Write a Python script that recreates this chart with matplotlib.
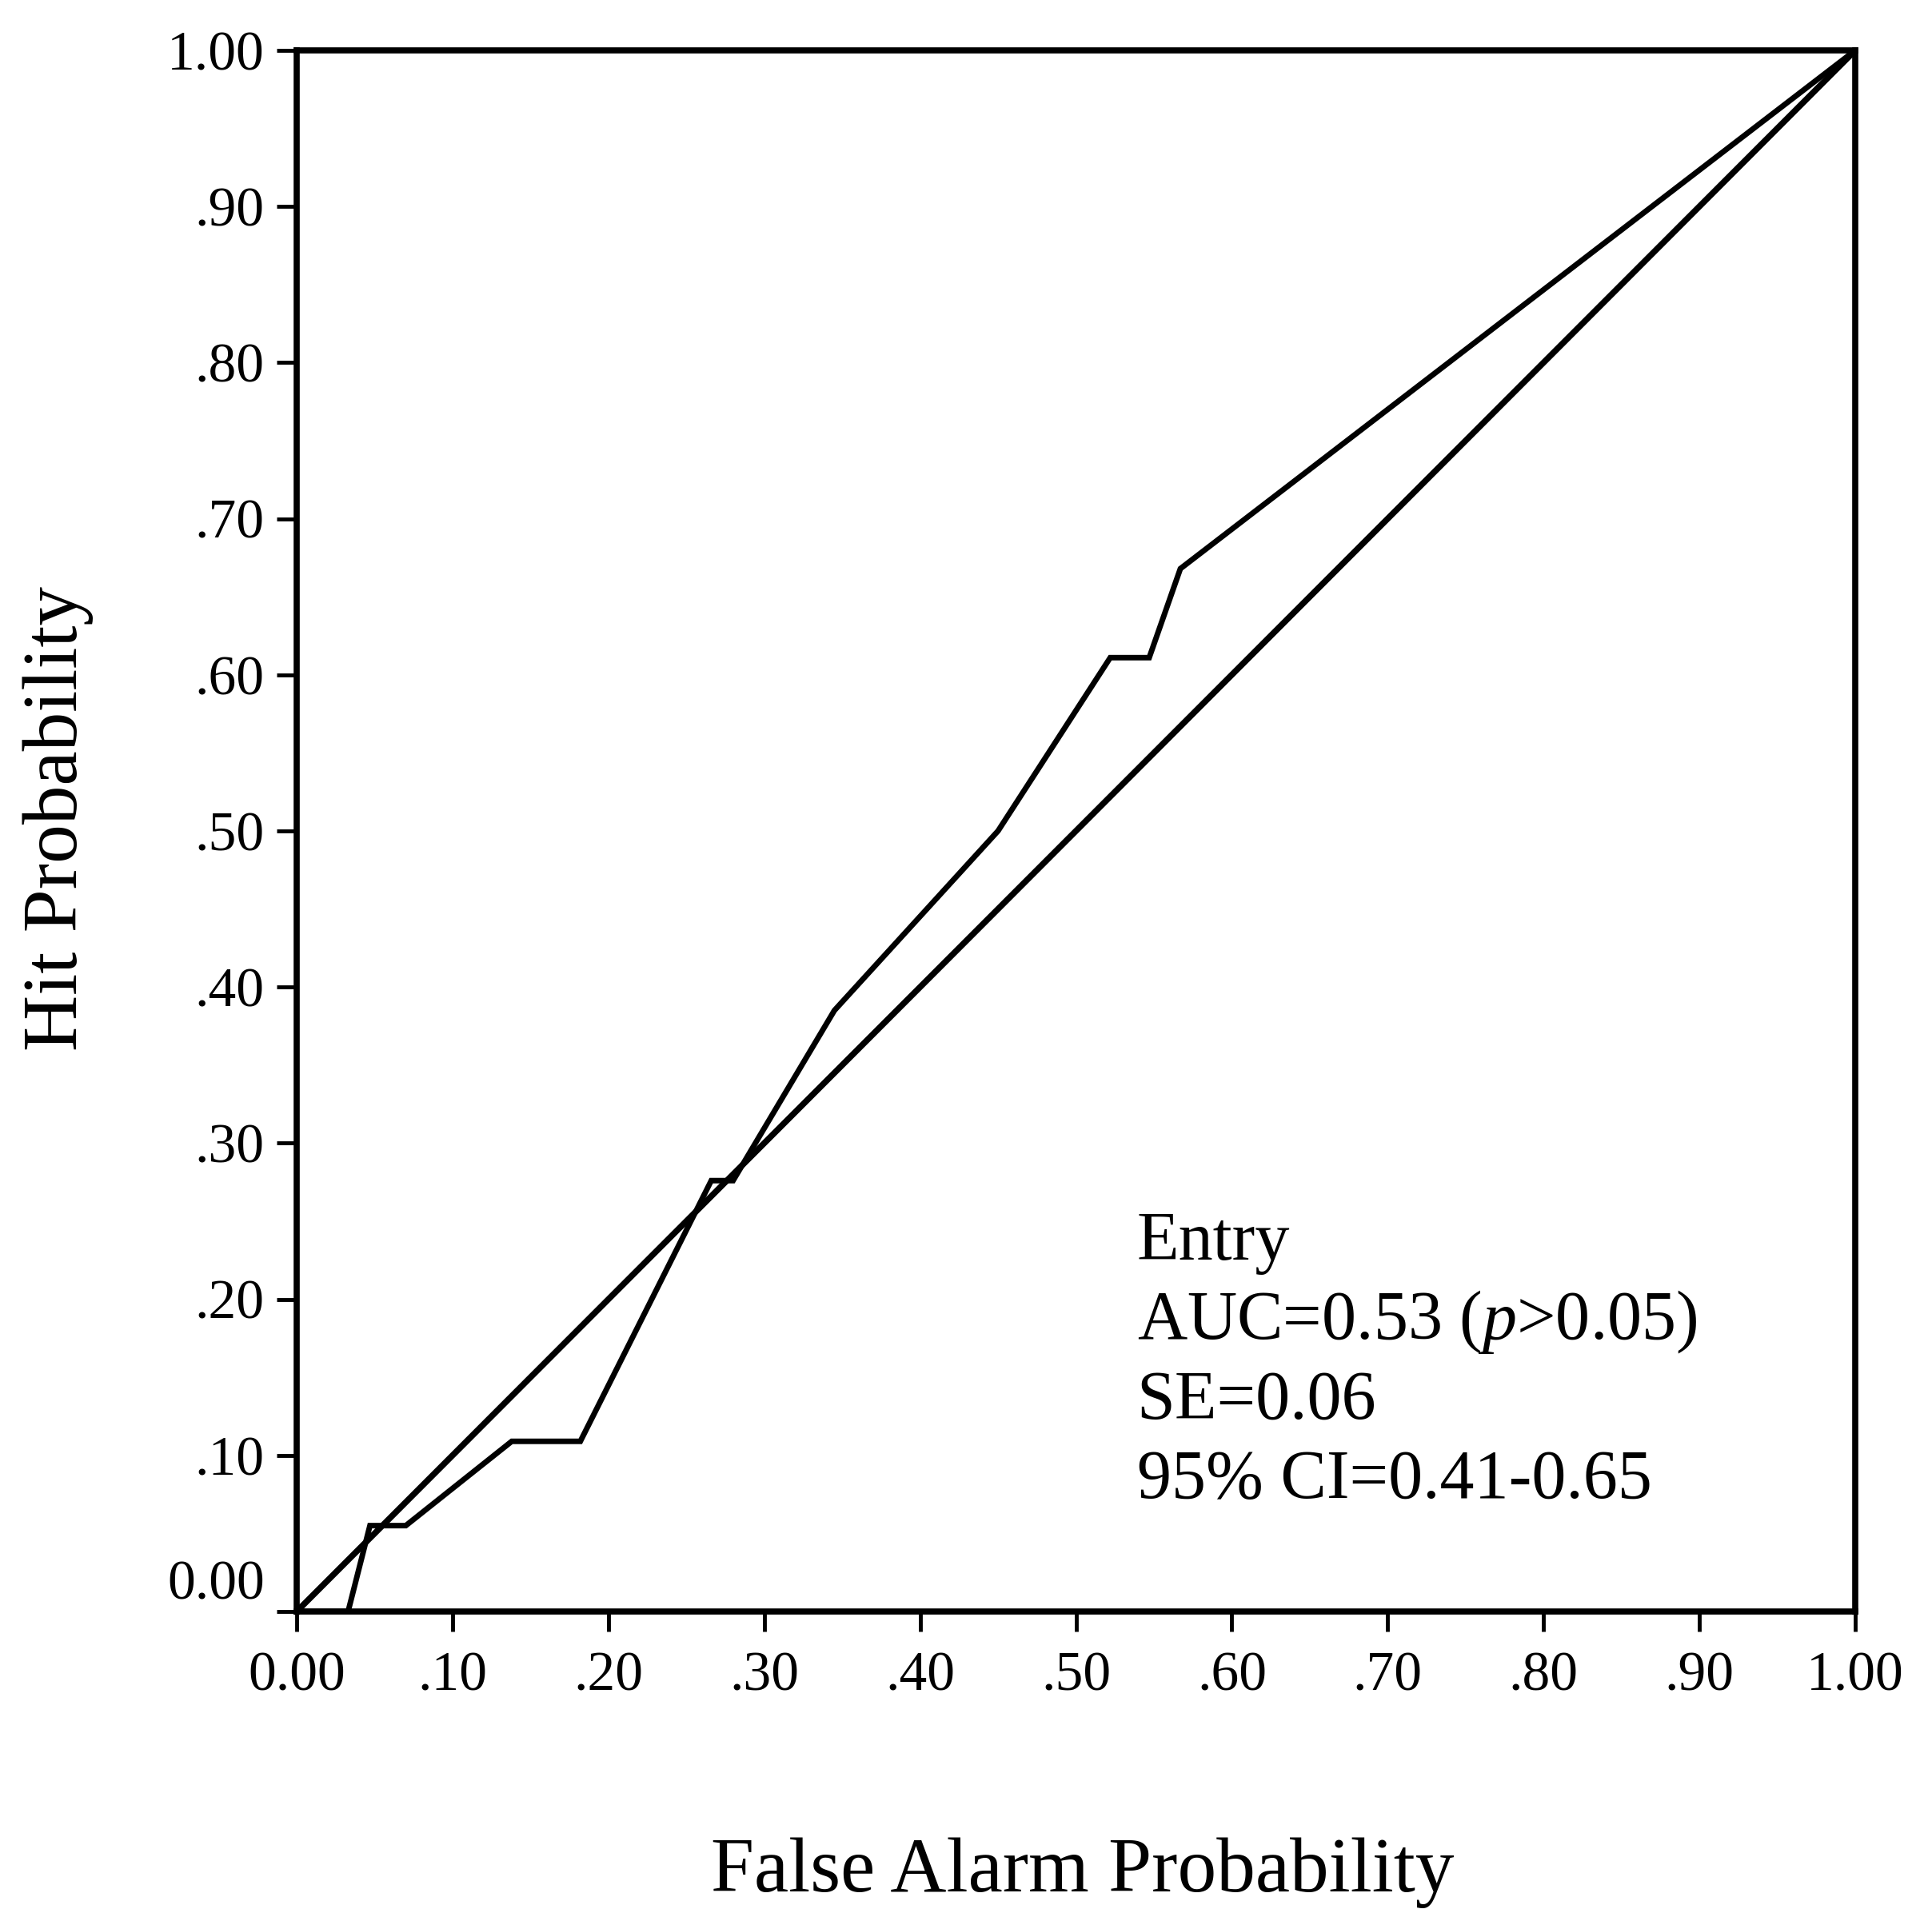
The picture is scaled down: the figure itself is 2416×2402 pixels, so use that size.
import numpy as np
import matplotlib
matplotlib.use("Agg")
import matplotlib.pyplot as plt

plt.rcParams['font.family'] = ['Liberation Serif', 'DejaVu Serif']
plt.rcParams['mathtext.fontset'] = 'custom'
plt.rcParams['mathtext.rm'] = 'Liberation Serif'
plt.rcParams['mathtext.it'] = 'Liberation Serif:italic'

# ROC curve for "Entry"
false_alarm = [0.0, 0.033, 0.047, 0.070, 0.138, 0.182, 0.266, 0.280, 0.345,
               0.450, 0.522, 0.547, 0.567, 1.0]
hit = [0.0, 0.0, 0.055, 0.055, 0.109, 0.109, 0.276, 0.276, 0.385,
       0.500, 0.611, 0.611, 0.668, 1.0]

# chance line
chance_x = [0.0, 1.0]
chance_y = [0.0, 1.0]

tick_vals = [0.0, 0.1, 0.2, 0.3, 0.4, 0.5, 0.6, 0.7, 0.8, 0.9, 1.0]
tick_labels = ["0.00", ".10", ".20", ".30", ".40", ".50", ".60", ".70", ".80", ".90", "1.00"]

annot_lines = ["Entry", "AUC=0.53 ($p$>0.05)", "SE=0.06", "95% CI=0.41-0.65"]

#---------------------------------------------------------------
fig = plt.figure(figsize=(24.16, 24.02), dpi=100)
ax = fig.add_axes([0.15356, 0.16112, 0.80671, 0.81266])

ax.plot(chance_x, chance_y, color='k', lw=5.5, solid_capstyle='butt')
ax.plot(false_alarm, hit, color='k', lw=5, solid_joinstyle='miter')

ax.set_xlim(0, 1)
ax.set_ylim(0, 1)
ax.set_xticks(tick_vals)
ax.set_xticklabels(tick_labels)
ax.set_yticks(tick_vals)
ax.set_yticklabels(tick_labels)
ax.tick_params(direction='out', length=18, width=3.5, labelsize=50, pad=18,
               top=False, right=False)
ax.tick_params(axis='y', pad=11)
for s in ax.spines.values():
    s.set_linewidth(5.5)

# the y "0.00" sits a bit above the zero line
ax.get_yticklabels()[0].set_verticalalignment('bottom')

# annotation block
y0 = 0.2256
step = 0.0510
for i, line in enumerate(annot_lines):
    ax.text(0.539, y0 - i * step, line, fontsize=62, va='baseline', ha='left')

fig.text(0.5604, 0.0154, "False Alarm Probability", fontsize=70,
         ha='center', va='baseline')
fig.text(0.030, 0.5737, "Hit Probability", fontsize=70, rotation=90,
         ha='center', va='center')

fig.savefig("out.png", dpi=100)
